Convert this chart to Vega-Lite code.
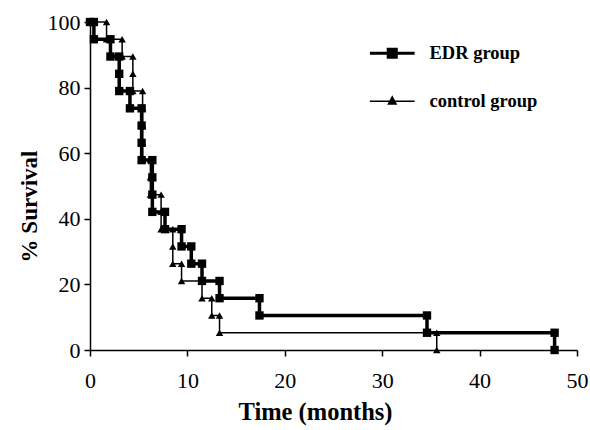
{
  "$schema": "https://vega.github.io/schema/vega-lite/v6.json",
  "autosize": "none",
  "width": 487,
  "height": 328,
  "padding": {"left": 90, "top": 22, "right": 13, "bottom": 80},
  "background": "white",
  "config": {
    "view": {"stroke": null},
    "font": "Liberation Serif",
    "axis": {"grid": false, "domainColor": "black", "tickColor": "black", "labelColor": "black", "titleColor": "black", "labelFont": "Liberation Serif", "titleFont": "Liberation Serif", "labelFontSize": 22, "titleFontSize": 23, "titleFontWeight": "bold", "tickSize": 6, "domainWidth": 1.5, "tickWidth": 1.5}
  },
  "data": {"values": [
    {"g": "EDR group", "i": 0, "t": 0, "s": 100},
    {"g": "EDR group", "i": 1, "t": 0.4, "s": 100},
    {"g": "EDR group", "i": 2, "t": 0.4, "s": 94.74},
    {"g": "EDR group", "i": 3, "t": 2.1, "s": 94.74},
    {"g": "EDR group", "i": 4, "t": 2.1, "s": 89.47},
    {"g": "EDR group", "i": 5, "t": 3.0, "s": 89.47},
    {"g": "EDR group", "i": 6, "t": 3.0, "s": 84.21},
    {"g": "EDR group", "i": 7, "t": 3.0, "s": 78.95},
    {"g": "EDR group", "i": 8, "t": 4.1, "s": 78.95},
    {"g": "EDR group", "i": 9, "t": 4.1, "s": 73.68},
    {"g": "EDR group", "i": 10, "t": 5.3, "s": 73.68},
    {"g": "EDR group", "i": 11, "t": 5.3, "s": 68.42},
    {"g": "EDR group", "i": 12, "t": 5.3, "s": 63.16},
    {"g": "EDR group", "i": 13, "t": 5.3, "s": 57.89},
    {"g": "EDR group", "i": 14, "t": 6.4, "s": 57.89},
    {"g": "EDR group", "i": 15, "t": 6.4, "s": 52.63},
    {"g": "EDR group", "i": 16, "t": 6.4, "s": 47.37},
    {"g": "EDR group", "i": 17, "t": 6.4, "s": 42.11},
    {"g": "EDR group", "i": 18, "t": 7.7, "s": 42.11},
    {"g": "EDR group", "i": 19, "t": 7.7, "s": 36.84},
    {"g": "EDR group", "i": 20, "t": 9.4, "s": 36.84},
    {"g": "EDR group", "i": 21, "t": 9.4, "s": 31.58},
    {"g": "EDR group", "i": 22, "t": 10.4, "s": 31.58},
    {"g": "EDR group", "i": 23, "t": 10.4, "s": 26.32},
    {"g": "EDR group", "i": 24, "t": 11.5, "s": 26.32},
    {"g": "EDR group", "i": 25, "t": 11.5, "s": 21.05},
    {"g": "EDR group", "i": 26, "t": 13.3, "s": 21.05},
    {"g": "EDR group", "i": 27, "t": 13.3, "s": 15.79},
    {"g": "EDR group", "i": 28, "t": 17.4, "s": 15.79},
    {"g": "EDR group", "i": 29, "t": 17.4, "s": 10.53},
    {"g": "EDR group", "i": 30, "t": 34.6, "s": 10.53},
    {"g": "EDR group", "i": 31, "t": 34.6, "s": 5.26},
    {"g": "EDR group", "i": 32, "t": 47.7, "s": 5.26},
    {"g": "EDR group", "i": 33, "t": 47.7, "s": 0},
    {"g": "control group", "i": 0, "t": 0, "s": 100},
    {"g": "control group", "i": 1, "t": 1.7, "s": 100},
    {"g": "control group", "i": 2, "t": 1.7, "s": 94.74},
    {"g": "control group", "i": 3, "t": 3.3, "s": 94.74},
    {"g": "control group", "i": 4, "t": 3.3, "s": 89.47},
    {"g": "control group", "i": 5, "t": 4.4, "s": 89.47},
    {"g": "control group", "i": 6, "t": 4.4, "s": 84.21},
    {"g": "control group", "i": 7, "t": 4.4, "s": 78.95},
    {"g": "control group", "i": 8, "t": 5.4, "s": 78.95},
    {"g": "control group", "i": 9, "t": 5.4, "s": 73.68},
    {"g": "control group", "i": 10, "t": 5.4, "s": 68.42},
    {"g": "control group", "i": 11, "t": 5.4, "s": 63.16},
    {"g": "control group", "i": 12, "t": 5.4, "s": 57.89},
    {"g": "control group", "i": 13, "t": 6.2, "s": 57.89},
    {"g": "control group", "i": 14, "t": 6.2, "s": 52.63},
    {"g": "control group", "i": 15, "t": 6.2, "s": 47.37},
    {"g": "control group", "i": 16, "t": 7.3, "s": 47.37},
    {"g": "control group", "i": 17, "t": 7.3, "s": 42.11},
    {"g": "control group", "i": 18, "t": 7.3, "s": 36.84},
    {"g": "control group", "i": 19, "t": 8.5, "s": 36.84},
    {"g": "control group", "i": 20, "t": 8.5, "s": 31.58},
    {"g": "control group", "i": 21, "t": 8.5, "s": 26.32},
    {"g": "control group", "i": 22, "t": 9.4, "s": 26.32},
    {"g": "control group", "i": 23, "t": 9.4, "s": 21.05},
    {"g": "control group", "i": 24, "t": 11.5, "s": 21.05},
    {"g": "control group", "i": 25, "t": 11.5, "s": 15.79},
    {"g": "control group", "i": 26, "t": 12.5, "s": 15.79},
    {"g": "control group", "i": 27, "t": 12.5, "s": 10.53},
    {"g": "control group", "i": 28, "t": 13.3, "s": 10.53},
    {"g": "control group", "i": 29, "t": 13.3, "s": 5.26},
    {"g": "control group", "i": 30, "t": 35.6, "s": 5.26},
    {"g": "control group", "i": 31, "t": 35.6, "s": 0}
  ]},
  "encoding": {
    "x": {"field": "t", "type": "quantitative", "scale": {"domain": [0, 50], "nice": false, "zero": false},
      "axis": {"values": [0, 10, 20, 30, 40, 50], "title": "Time (months)", "titleFontSize": 24.5, "labelPadding": 14, "titlePadding": 9, "titleX": 225, "labelFlush": false}},
    "y": {"field": "s", "type": "quantitative", "scale": {"domain": [0, 100], "nice": false},
      "axis": {"values": [0, 20, 40, 60, 80, 100], "title": "% Survival", "labelPadding": 4, "titlePadding": 6, "titleY": 184, "labelFlush": false}}
  },
  "layer": [
    {
      "mark": {"type": "line", "color": "black", "interpolate": "linear"},
      "encoding": {
        "detail": {"field": "g"},
        "order": {"field": "i", "type": "quantitative"},
        "strokeWidth": {"condition": {"test": "datum.g === 'EDR group'", "value": 3.5}, "value": 1.5},
        "color": {"field": "g", "type": "nominal", "scale": {"domain": ["EDR group", "control group"], "range": ["black", "black"]},
          "legend": {"title": null, "orient": "none", "legendX": 293, "legendY": 22, "labelFont": "Liberation Serif", "labelFontSize": 18.5, "labelFontWeight": "bold", "labelColor": "black", "symbolSize": 2000, "rowPadding": 28, "labelOffset": 28,
            "encode": {"symbols": {"update": {
              "shape": {"signal": "datum.value === 'EDR group' ? 'M-1,0H1M-0.18,-0.18H0.18V0.18H-0.18Z' : 'M-1,0H1M0,-0.2L0.17,0.12H-0.17Z'"},
              "strokeWidth": {"signal": "datum.value === 'EDR group' ? 3 : 1.5"},
              "fill": {"value": "black"},
              "stroke": {"value": "black"},
              "opacity": {"value": 1},
              "fillOpacity": {"value": 1},
              "strokeOpacity": {"value": 1}
            }}}}
        }
      }
    },
    {
      "mark": {"type": "point", "filled": true, "color": "black", "opacity": 1},
      "encoding": {
        "detail": {"field": "g"},
        "shape": {"condition": {"test": "datum.g === 'EDR group'", "value": "square"}, "value": "triangle-up"},
        "size": {"condition": {"test": "datum.g === 'EDR group'", "value": 70}, "value": 55}
      }
    }
  ]
}
